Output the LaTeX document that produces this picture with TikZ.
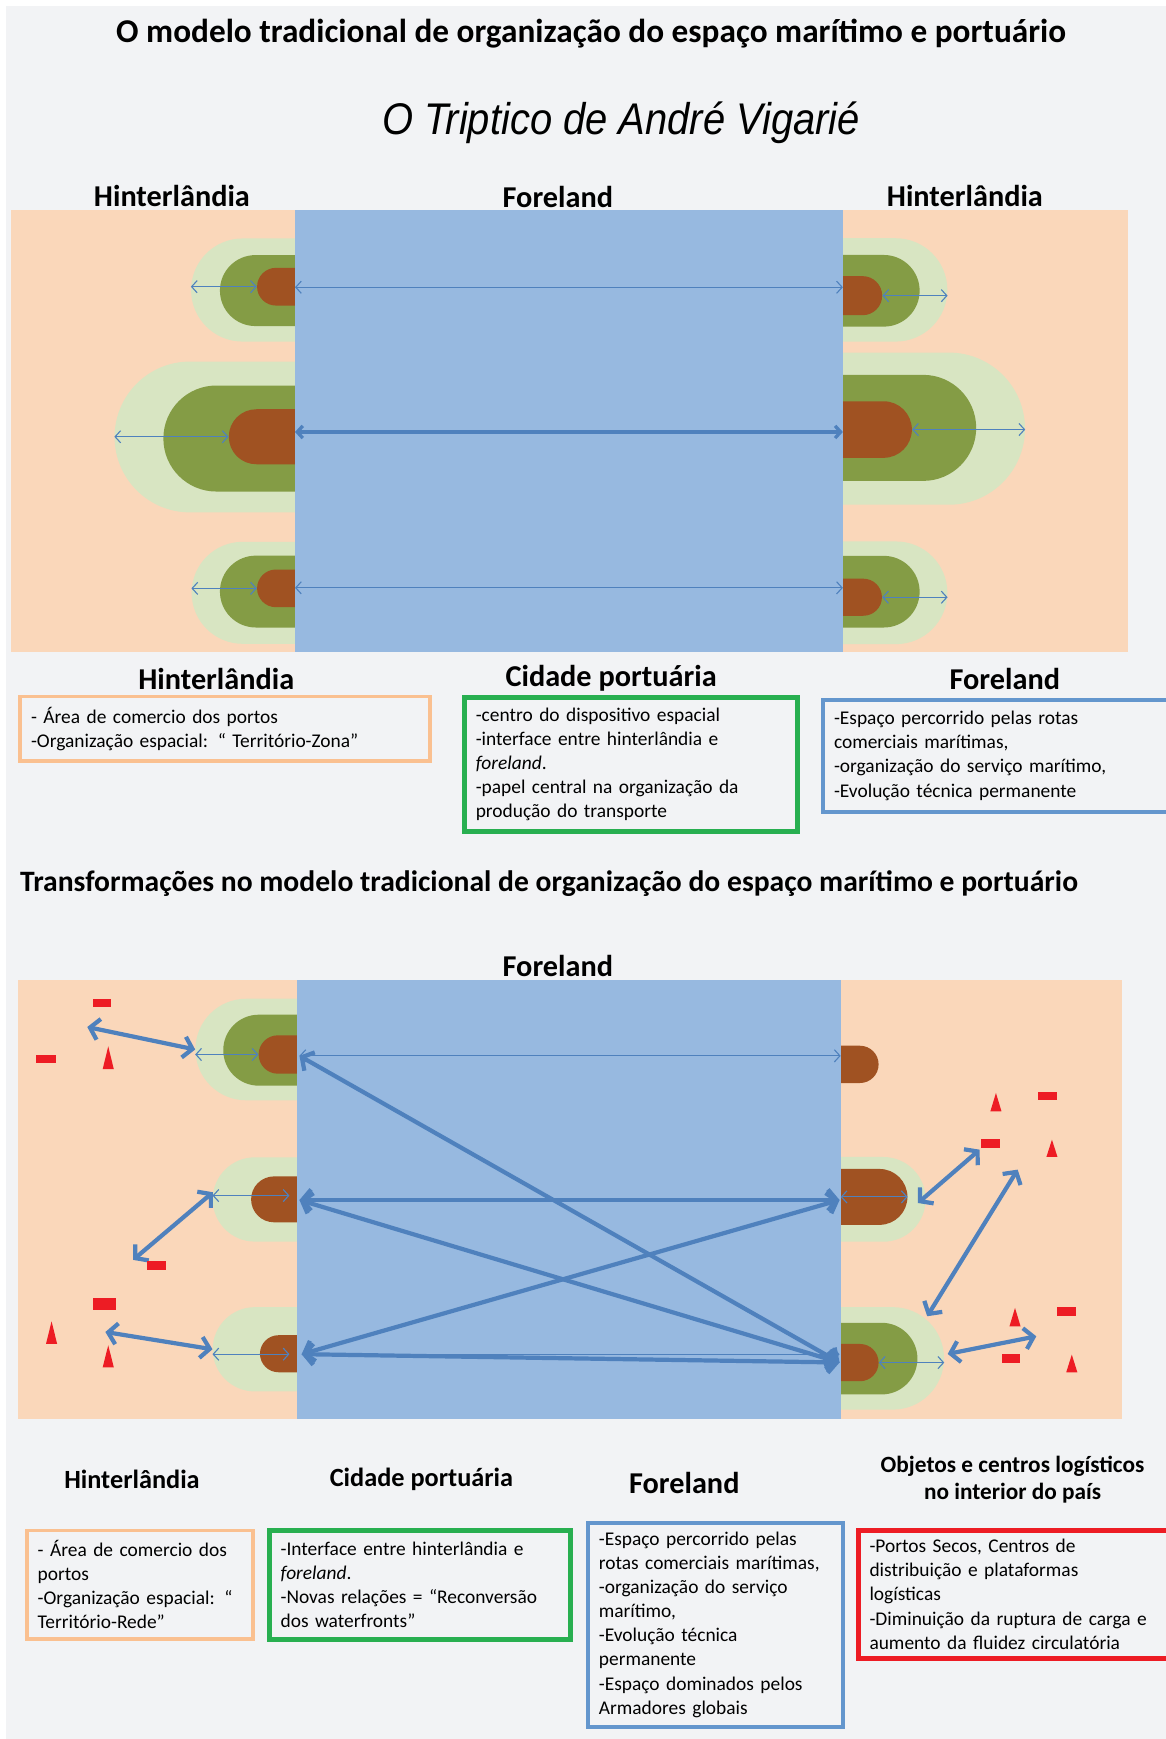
\documentclass[tikz,border=0pt]{standalone}
\usepackage{fontspec}
\setmainfont{Carlito}
\newfontfamily\arialit[FakeStretch=0.9]{Liberation Sans}
\usetikzlibrary{shapes.misc, arrows.meta}

\definecolor{pagegray}{RGB}{242,243,245}
\definecolor{peach}{RGB}{250,215,186}
\definecolor{seablue}{RGB}{151,185,224}
\definecolor{palegreen}{RGB}{216,229,194}
\definecolor{olivegreen}{RGB}{132,156,69}
\definecolor{rust}{RGB}{160,82,34}
\definecolor{routeblue}{RGB}{79,129,189}
\definecolor{depotred}{RGB}{237,28,36}
\definecolor{boxorange}{RGB}{250,192,144}
\definecolor{boxgreen}{RGB}{40,175,80}
\definecolor{boxblue}{RGB}{100,150,205}

\tikzset{
  lzone/.style={rounded rectangle, rounded rectangle right arc=none, inner sep=0pt, anchor=east},
  rzone/.style={rounded rectangle, rounded rectangle left arc=none, inner sep=0pt, anchor=west},
  head/.style={font=\fontsize{27.3}{31}\selectfont\bfseries, inner sep=0pt},
  infobox/.style={
    rectangle,
    draw,
    line width=3.5pt,
    align=left,
    inner xsep=10pt,
    inner ysep=0pt,
    font=\fontsize{17.5}{21.7}\selectfont
  },
  route/.style={draw=routeblue, line width=1pt, {Straight Barb[length=5pt,width=11pt]}-{Straight Barb[length=5pt,width=11pt]}},
  mainroute/.style={draw=routeblue, line width=3.8pt, {Straight Barb[length=8pt,width=19pt]}-{Straight Barb[length=8pt,width=19pt]}}
}
\def\depot#1#2#3#4{\fill[depotred] (#1,#2) rectangle (#3,#4);}
\def\cone#1#2#3{\fill[depotred] (#1-5,#3) -- (#1,#2) -- (#1+5,#3) -- cycle;}

\begin{document}
\begin{tikzpicture}[x=1pt, y=-1pt]
    \useasboundingbox (0,0) rectangle (1051,1568);
    \fill[pagegray] (5,5) rectangle (1051,1568);

    % titles
    \node[font=\fontsize{30}{34}\selectfont\bfseries] (title) at (533,30) {O modelo tradicional de organização do espaço marítimo e portuário};
    \node[font=\arialit\itshape\fontsize{40}{46}\selectfont] (triptico) at (560,111) {O Triptico de André Vigarié};
    \node[head] (hintT1) at (155,177) {Hinterlândia};
    \node[head] (foreT) at (503,178) {Foreland};
    \node[head] (hintT2) at (870,177) {Hinterlândia};

    % traditional model
    \fill[peach] (10,189) rectangle (1017,588);
    \node[lzone, fill=palegreen, minimum width=93.5pt, minimum height=93pt] (lgTL1) at (266,261.5) {};
    \node[lzone, fill=olivegreen, minimum width=67.5pt, minimum height=64pt] (dgTL1) at (266,262) {};
    \node[lzone, fill=rust, minimum width=33pt, minimum height=34pt] (brTL1) at (266,258.5) {};
    \node[lzone, fill=palegreen, minimum width=162.5pt, minimum height=136pt] (lgTL2) at (266,394) {};
    \node[lzone, fill=olivegreen, minimum width=118.5pt, minimum height=95.6pt] (dgTL2) at (266,395.4) {};
    \node[lzone, fill=rust, minimum width=59.5pt, minimum height=49.6pt] (brTL2) at (266,393.8) {};
    \node[lzone, fill=palegreen, minimum width=93pt, minimum height=92pt] (lgTL3) at (266,534.5) {};
    \node[lzone, fill=olivegreen, minimum width=67.5pt, minimum height=64.8pt] (dgTL3) at (266,533.4) {};
    \node[lzone, fill=rust, minimum width=33pt, minimum height=34pt] (brTL3) at (266,530.5) {};
    \node[rzone, fill=palegreen, minimum width=94pt, minimum height=93.2pt] (lgTR1) at (760,261.4) {};
    \node[rzone, fill=olivegreen, minimum width=69pt, minimum height=64.6pt] (dgTR1) at (760,262.2) {};
    \node[rzone, fill=rust, minimum width=35pt, minimum height=35.2pt] (brTR1) at (760,266.6) {};
    \node[rzone, fill=palegreen, minimum width=164pt, minimum height=137.2pt] (lgTR2) at (760,386.5) {};
    \node[rzone, fill=olivegreen, minimum width=120pt, minimum height=95.6pt] (dgTR2) at (760,385.8) {};
    \node[rzone, fill=rust, minimum width=62pt, minimum height=51pt] (brTR2) at (760,387.3) {};
    \node[rzone, fill=palegreen, minimum width=94pt, minimum height=92.6pt] (lgTR3) at (760,534.5) {};
    \node[rzone, fill=olivegreen, minimum width=69pt, minimum height=64.6pt] (dgTR3) at (760,533.5) {};
    \node[rzone, fill=rust, minimum width=35pt, minimum height=33.4pt] (brTR3) at (760,538.5) {};
    \fill[seablue] (266,189) rectangle (760,588);

    \coordinate (tw1) at (266,259);
    \coordinate (te1) at (760,259);
    \coordinate (tw2) at (266,389.5);
    \coordinate (te2) at (760,389.5);
    \coordinate (tw3) at (266,530);
    \coordinate (te3) at (760,530);
    \draw[route] (brTL1.west -| lgTL1.west) -- (brTL1.west);
    \draw[route] (brTL2.west -| lgTL2.west) -- (brTL2.west);
    \draw[route] (brTL3.west -| lgTL3.west) -- (brTL3.west);
    \draw[route] (brTR1.east) -- (brTR1.east -| lgTR1.east);
    \draw[route] (brTR2.east) -- (brTR2.east -| lgTR2.east);
    \draw[route] (brTR3.east) -- (brTR3.east -| lgTR3.east);
    \draw[route] (tw1) -- (te1);
    \draw[route, line width=3pt] (tw2) -- (te2);
    \draw[route] (tw3) -- (te3);

    % legend of the traditional model
    \node[head] (hintL) at (195,612) {Hinterlândia};
    \node[head] (cidL) at (551,612) {Cidade portuária};
    \node[head] (foreL) at (906,612) {Foreland};
    \node[infobox, draw=boxorange, minimum width=370pt, minimum height=58pt, text width=350pt] (hintBox) at (203,657)
      {- Área de comercio dos portos\\-Organização espacial: “ Território-Zona”};
    \node[infobox, draw=boxgreen, line width=4.5pt, minimum width=300pt, minimum height=121pt, text width=280pt] (cidBox) at (569,689.5)
      {-centro do dispositivo espacial\\-interface entre hinterlândia e\\{\itshape foreland}.\\-papel central na organização da\\produção do transporte};
    \node[infobox, draw=boxblue, minimum width=318pt, minimum height=101pt, text width=298pt] (foreBox) at (901,681.5)
      {-Espaço percorrido pelas rotas\\comerciais marítimas,\\-organização do serviço marítimo,\\-Evolução técnica permanente};

    % transformations
    \node[font=\fontsize{26.7}{30}\selectfont\bfseries, anchor=west, inner sep=0pt] (title2) at (18,797) {Transformações no modelo tradicional de organização do espaço marítimo e portuário};
    \node[head] (foreB) at (503,871) {Foreland};

    \fill[peach] (16,884) rectangle (1012,1279);
    \node[lzone, fill=palegreen, minimum width=91.5pt, minimum height=91.6pt] (lgBL1) at (268,946.3) {};
    \node[lzone, fill=olivegreen, minimum width=66.5pt, minimum height=64pt] (dgBL1) at (268,946.9) {};
    \node[lzone, fill=rust, minimum width=32.5pt, minimum height=34.6pt] (brBL1) at (268,950.8) {};
    \node[lzone, fill=palegreen, minimum width=67pt, minimum height=76pt] (lgBL2) at (268,1081.5) {};
    \node[lzone, fill=rust, minimum width=32.5pt, minimum height=41.4pt] (brBL2) at (268,1081.4) {};
    \node[lzone, fill=palegreen, minimum width=67pt, minimum height=76pt] (lgBL3) at (268,1216.6) {};
    \node[lzone, fill=rust, minimum width=32.5pt, minimum height=33.4pt] (brBL3) at (268,1220.6) {};
    \node[rzone, fill=rust, minimum width=34pt, minimum height=33.6pt] (brBR1) at (758,959.7) {};
    \node[rzone, fill=palegreen, minimum width=66pt, minimum height=76.4pt] (lgBR2) at (758,1081.4) {};
    \node[rzone, fill=rust, minimum width=60pt, minimum height=50.4pt] (brBR2) at (758,1079.2) {};
    \node[rzone, fill=palegreen, minimum width=93pt, minimum height=92.4pt] (lgBR3) at (758,1224.8) {};
    \node[rzone, fill=olivegreen, minimum width=69pt, minimum height=64.6pt] (dgBR3) at (758,1225) {};
    \node[rzone, fill=rust, minimum width=34pt, minimum height=33.6pt] (brBR3) at (758,1228.6) {};
    \fill[seablue] (268,884) rectangle (758,1279);

    \coordinate (bw1) at (270,952);
    \coordinate (be1) at (758,952);
    \coordinate (bw2) at (270,1082);
    \coordinate (be2) at (757,1082);
    \coordinate (bw3) at (272,1221);
    \coordinate (be3) at (757,1228.5);
    \coordinate (in2) at (261,1078);
    \coordinate (in3) at (261,1221);
    \coordinate (dry1) at (78.7,926);
    \coordinate (dry2) at (120,1136);
    \coordinate (gate2) at (192,1075);
    \coordinate (dry3) at (95,1201);
    \coordinate (gate4) at (827.7,1084.7);
    \coordinate (dry4) at (883.3,1036.6);
    \coordinate (dry5) at (917.6,1054.6);
    \coordinate (gate5) at (836,1186.8);
    \coordinate (gate6) at (854.5,1220.8);
    \coordinate (dry6) at (934.4,1204.9);

    \draw[route] (brBL1.west -| lgBL1.west) -- (brBL1.west);
    \draw[route] (in2 -| lgBL2.west) -- (in2);
    \draw[route] (in3 -| lgBL3.west) -- (in3);
    \draw[route] (brBR2.west) -- (brBR2.east);
    \draw[route] (brBR3.east) -- (brBR3.east -| lgBR3.east);
    \draw[route] (bw1) -- (be1);
    \draw[route] (bw3) -- (bw3 -| be3);
    \draw[mainroute] (bw1) -- (be3);
    \draw[mainroute] (bw2) -- (be2);
    \draw[mainroute] (bw2) -- (be3);
    \draw[mainroute] (bw3) -- (be2);
    \draw[mainroute] (bw3) -- (be3);
    \draw[mainroute] (dry1) -- (lgBL1.west);
    \draw[mainroute] (gate2) -- (dry2);
    \draw[mainroute] (dry3) -- (lgBL3.west);
    \draw[mainroute] (gate4) -- (dry4);
    \draw[mainroute] (dry5) -- (gate5);
    \draw[mainroute] (gate6) -- (dry6);

    % inland logistic objects
    \depot{83.8}{900.5}{100}{908}
    \depot{32.8}{951.3}{50.4}{958.8}
    \depot{132.1}{1137.2}{149.4}{1144.8}
    \depot{83.8}{1170.6}{104.2}{1180.8}
    \depot{935.5}{985}{953}{992.1}
    \depot{884.3}{1027}{901.8}{1035.1}
    \depot{953}{1178.4}{970.4}{1186.2}
    \depot{903.5}{1220.5}{919.6}{1228.9}
    \cone{97.6}{943.5}{963.9}
    \cone{46.5}{1191.4}{1211.7}
    \cone{97.6}{1213}{1232.8}
    \cone{898}{985.5}{1002}
    \cone{948.5}{1027.6}{1043.2}
    \cone{915.2}{1179.3}{1195.9}
    \cone{966.4}{1221.4}{1237.3}

    % legend of the transformations
    \node[head, font=\fontsize{23.7}{27}\selectfont\bfseries] (hintN) at (119,1334) {Hinterlândia};
    \node[head, font=\fontsize{23.7}{27}\selectfont\bfseries] (cidN) at (380,1334) {Cidade portuária};
    \node[head] (foreN) at (617,1337) {Foreland};
    \node[head, font=\fontsize{21}{24}\selectfont\bfseries, align=center] (objN) at (913,1334) {Objetos e centros logísticos\\no interior do país};
    \node[infobox, draw=boxorange, minimum width=204pt, minimum height=98pt, text width=184pt] (hintBoxN) at (126,1429)
      {- Área de comercio dos\\portos\\-Organização espacial: “\\Território-Rede”};
    \node[infobox, draw=boxgreen, line width=4.5pt, minimum width=271pt, minimum height=98pt, text width=251pt] (cidBoxN) at (378.5,1429)
      {-Interface entre hinterlândia e\\{\itshape foreland}.\\-Novas relações = “Reconversão\\dos waterfronts”};
    \node[infobox, draw=boxblue, minimum width=230pt, minimum height=184pt, text width=210pt] (foreBoxN) at (645,1465)
      {-Espaço percorrido pelas\\rotas comerciais marítimas,\\-organização do serviço\\marítimo,\\-Evolução técnica\\permanente\\-Espaço dominados pelos\\Armadores globais};
    \node[infobox, draw=depotred, line width=4.5pt, minimum width=284pt, minimum height=115pt, text width=264pt] (objBoxN) at (916,1437.5)
      {-Portos Secos, Centros de\\distribuição e plataformas\\logísticas\\-Diminuição da ruptura de carga e\\aumento da fluidez circulatória};
\end{tikzpicture}
\end{document}
